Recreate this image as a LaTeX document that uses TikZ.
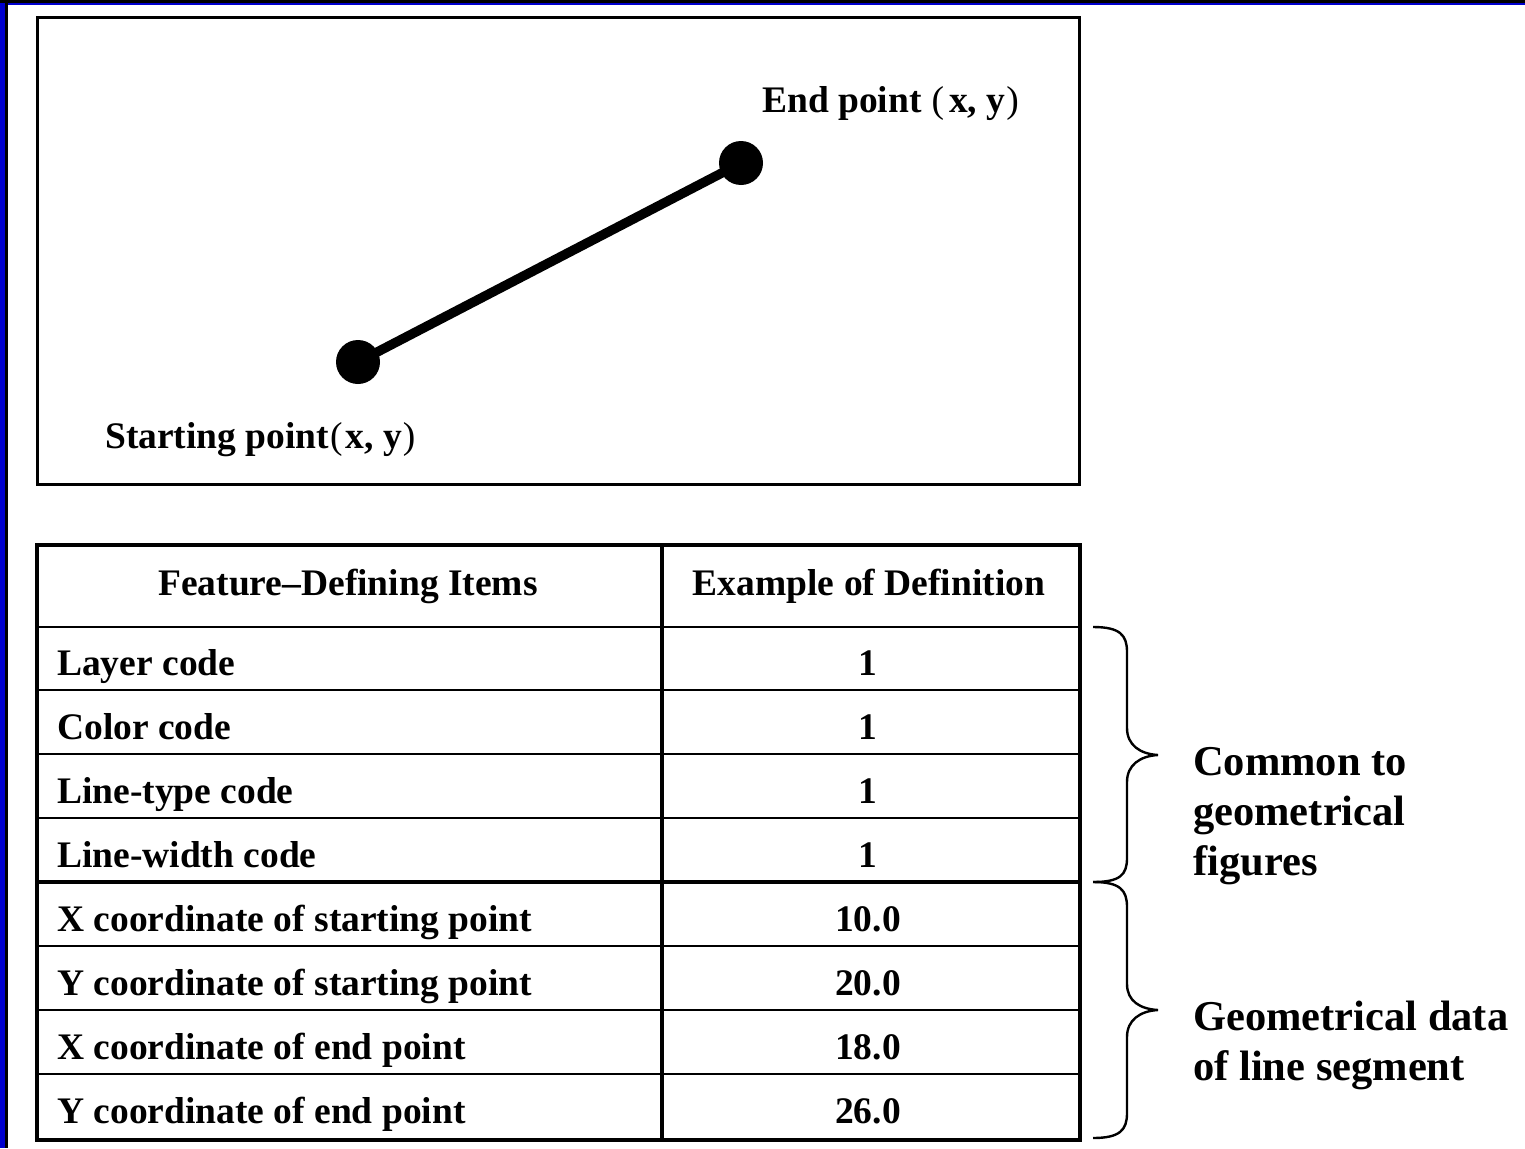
\documentclass[tikz,border=0pt]{standalone}
\usepackage{fontspec}
\setmainfont{Liberation Serif}
\newcommand{\lp}{\textmd{(}}
\newcommand{\rp}{\textmd{)}}
\definecolor{frameblue}{RGB}{0,0,205}
\begin{document}
\begin{tikzpicture}[x=1pt,y=-1pt,
  lbl/.style={font=\fontsize{37.5}{42}\selectfont\bfseries, inner sep=0pt},
  side/.style={font=\fontsize{42.5}{50}\selectfont\bfseries, inner sep=0pt, align=left, anchor=base west},
  dot/.style={circle, fill=black, minimum size=44pt, inner sep=0pt},
  thin rule/.style={line width=2.6pt},
  thick rule/.style={line width=4.6pt},
  bracecurve/.style={line width=2.4pt}]
  \useasboundingbox (0,0) rectangle (1525,1148);
  \fill[white] (0,0) rectangle (1525,1148);
  % window frame on the left and top
  \fill[frameblue] (0,0) rectangle (6,1148);
  \fill[frameblue] (0,0) rectangle (1525,5);
  \fill[black] (5,3) rectangle (7.5,1148);
  \fill[black] (0,0) rectangle (1525,3);

  % line segment drawing
  \draw[line width=3pt] (37,18) rectangle (1079,484);
  \node[dot] (start) at (358,362) {};
  \node[dot] (end) at (741,163) {};
  \draw[line width=9.5pt] (start.center) -- (end.center);
  \node[lbl, anchor=base west] (endlbl) at (762,112) {End point\kern10pt\lp\kern5pt x, y\kern1pt\rp};
  \node[lbl, anchor=base west] (startlbl) at (105,448) {Starting point\kern1pt\lp\kern3pt x, y\kern1pt\rp};

  % table grid
  \foreach \y in {627,690,754,818,946,1010,1074}
    \draw[thin rule] (37,\y) -- (1080,\y);
  \draw[thick rule] (37,882) -- (1080,882);
  \draw[thick rule] (662,545) -- (662,1140);
  \draw[thick rule] (37,545) rectangle (1080,1140);

  % table header
  \node[lbl, anchor=base] (h1) at (348,595) {Feature–Defining Items};
  \node[lbl, anchor=base] (h2) at (869,595) {Example of Definition};

  % table rows
  \foreach \txt/\val [count=\i from 0] in {
      Layer code/1, Color code/1, Line-type code/1, Line-width code/1,
      X coordinate of starting point/10.0, Y coordinate of starting point/20.0,
      X coordinate of end point/18.0, Y coordinate of end point/26.0} {
    \node[lbl, anchor=base west] (item\i) at (57,675+64*\i) {\txt};
    \node[lbl, anchor=base] (val\i) at (868,675+64*\i) {\val};
  }

  % braces grouping the rows
  \draw[bracecurve] (1093,627) .. controls (1120,627) and (1127,635) .. (1127,652)
    -- (1127,728) .. controls (1127,745) and (1140,754) .. (1158,755)
    .. controls (1140,756) and (1127,765) .. (1127,782)
    -- (1127,858) .. controls (1127,875) and (1120,882) .. (1093,882);
  \draw[bracecurve] (1093,882) .. controls (1120,882) and (1127,890) .. (1127,907)
    -- (1127,984) .. controls (1127,1001) and (1140,1009) .. (1158,1010)
    .. controls (1140,1011) and (1127,1020) .. (1127,1037)
    -- (1127,1113) .. controls (1127,1130) and (1120,1138) .. (1093,1138);

  % the last line of each label sits on the given baseline
  \node[side] (common) at (1193,875) {Common to\\geometrical\\figures};
  \node[side] (geodata) at (1193,1080) {Geometrical data\\of line segment};
\end{tikzpicture}
\end{document}
